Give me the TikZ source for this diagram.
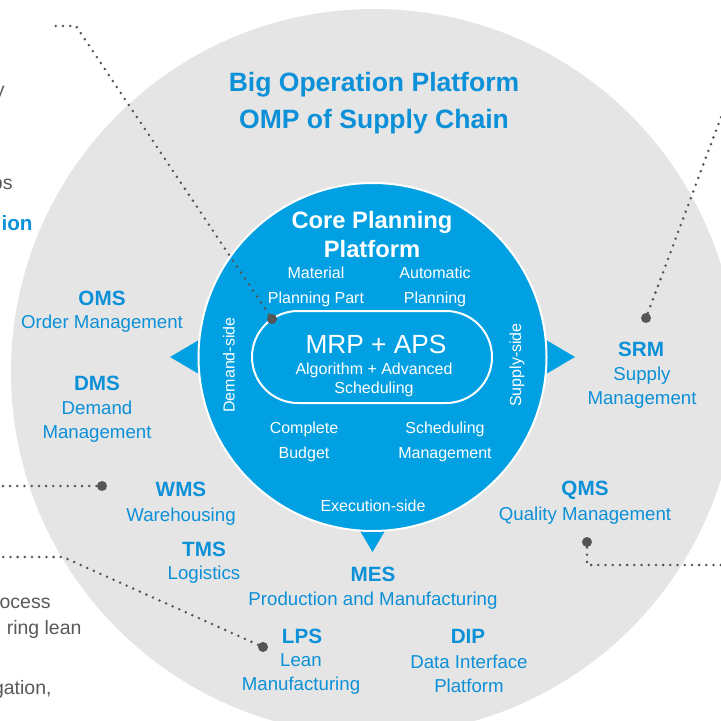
\documentclass[tikz,border=0pt]{standalone}
\usepackage{fontspec}
\setmainfont{Liberation Sans}
\definecolor{ompblue}{RGB}{0,160,227}
\definecolor{omptext}{RGB}{12,144,216}
\definecolor{ompgrey}{RGB}{229,229,229}
\definecolor{pingrey}{RGB}{85,85,85}
\definecolor{sidegrey}{RGB}{89,89,89}
\tikzset{every picture/.style={line width=0.75pt}}
\tikzset{
code/.style={font=\bfseries\fontsize{15.5}{18}\selectfont, text=omptext, inner sep=0.75pt},
desc/.style={font=\fontsize{14}{18}\selectfont, text=omptext, inner sep=0.75pt, align=center},
core/.style={font=\fontsize{12}{18.75}\selectfont, text=white, inner sep=0.75pt, align=center},
pin/.style={circle, fill=pingrey, inner sep=0pt, minimum size=7.5pt},
leader/.style={draw=pingrey, line width=2.1pt, line cap=round, dash pattern=on 0pt off 5.4pt},
cut/.style={font=\fontsize{14.6}{18}\selectfont, text=sidegrey, inner sep=0pt, anchor=base east}}

\begin{document}
\begin{tikzpicture}[x=0.75pt,y=0.75pt,yscale=-1,xscale=1]
\useasboundingbox (0,0) rectangle (721,721);
\clip (0,0) rectangle (721,721);

%Shape: Circle (outer platform)
\fill [ompgrey] (374,372) circle [radius=363];
%Shape: Triangles (pointers)
\fill [ompblue] (170,357) -- (204,337) -- (204,377) -- cycle;
\fill [ompblue] (575,357) -- (541,337) -- (541,377) -- cycle;
\fill [ompblue] (372.5,552) -- (352.5,518) -- (392.5,518) -- cycle;
%Shape: Circle (core)
\draw [fill=ompblue, draw=white, line width=1.5pt] (372.5,357) circle [radius=174];
%Shape: Rounded Rectangle
\draw [white, line width=1.5pt, rounded corners=34.5pt] (252,311) rectangle (492,403);

% Text Node
\node (title) [font=\bfseries\fontsize{19.9}{27.75}\selectfont, text=omptext, align=center] at (374,103) {Big Operation Platform\\OMP of Supply Chain};
% Text Node
\node (core) [font=\bfseries\fontsize{17.8}{21.75}\selectfont, text=white, align=center] at (372,235) {Core Planning\\Platform};
\node (mat) [core] at (316,287) {Material\\Planning Part};
\node (auto) [core] at (435,287) {Automatic\\Planning};
\node (mrp) [font=\fontsize{19.7}{22}\selectfont, text=white] at (376,344) {MRP + APS};
\node (algo) [font=\fontsize{12}{13.9}\selectfont, text=white, align=center] at (374,380) {Algorithm + Advanced\\Scheduling};
\node (budget) [core] at (304,442) {Complete\\Budget};
\node (sched) [core] at (445,442) {Scheduling\\Management};
\node (exec) [core] at (373,506) {Execution-side};
\node (demand) [core, rotate=90] at (229,365) {Demand-side};
\node (supply) [core, rotate=90] at (517,365) {Supply-side};

% Text Node
\node (oms) [code] at (102,298) {OMS};
\node (oms-d) [desc] at (102,324) {Order Management};
\node (dms) [code] at (97,383) {DMS};
\node (dms-d) [desc] at (97,422) {Demand\\Management};
\node (srm) [code] at (641,349) {SRM};
\node (srm-d) [desc] at (642,388) {Supply\\Management};
\node (wms) [code] at (181,489) {WMS};
\node (wms-d) [desc] at (181,517) {Warehousing};
\node (tms) [code] at (204,549) {TMS};
\node (tms-d) [desc] at (204,575) {Logistics};
\node (mes) [code] at (373,574) {MES};
\node (mes-d) [desc] at (373,601) {Production and Manufacturing};
\node (lps) [code] at (302,636) {LPS};
\node (lps-d) [desc] at (301,674) {Lean\\Manufacturing};
\node (dip) [code] at (468,636) {DIP};
\node (dip-d) [desc] at (469,674) {Data Interface\\Platform};
\node (qms) [code] at (585,490) {QMS};
\node (qms-d) [desc] at (585,516) {Quality Management};

% Text Node (cut off at left)
\node (frag1) [cut] at (5,96) {y};
\node (frag2) [cut] at (13,189) {ps};
\node (frag3) [cut, font=\bfseries\fontsize{15.5}{18}\selectfont, text=omptext] at (33,230) {ion};
\node (frag4) [cut] at (51,608) {ocess};
\node (frag5) [cut] at (82,634) {ring lean};
\node (frag6) [cut] at (52,694) {gation,};

%Shape: Dots and leaders
\node (pin-core) [pin] at (272,319) {};
\node (pin-srm) [pin] at (646,318) {};
\node (pin-wms) [pin] at (102,486) {};
\node (pin-lps) [pin] at (263,647) {};
\node (pin-qms) [pin] at (587,542) {};
\coordinate (bend-core) at (76,26);
\coordinate (end-core) at (52,26);
\coordinate (end-srm) at (730,93);
\coordinate (end-wms) at (-2,486);
\coordinate (bend-lps) at (63,557);
\coordinate (end-lps) at (-2,557);
\coordinate (bend-qms) at (587,565);
\coordinate (end-qms) at (725,565);
\draw [leader] (pin-core) -- (bend-core) -- (end-core);
\draw [leader] (pin-srm) -- (end-srm);
\draw [leader] (pin-wms) -- (end-wms);
\draw [leader] (pin-lps) -- (bend-lps) -- (end-lps);
\draw [leader] (pin-qms) -- (bend-qms) -- (end-qms);

\end{tikzpicture}
\end{document}
